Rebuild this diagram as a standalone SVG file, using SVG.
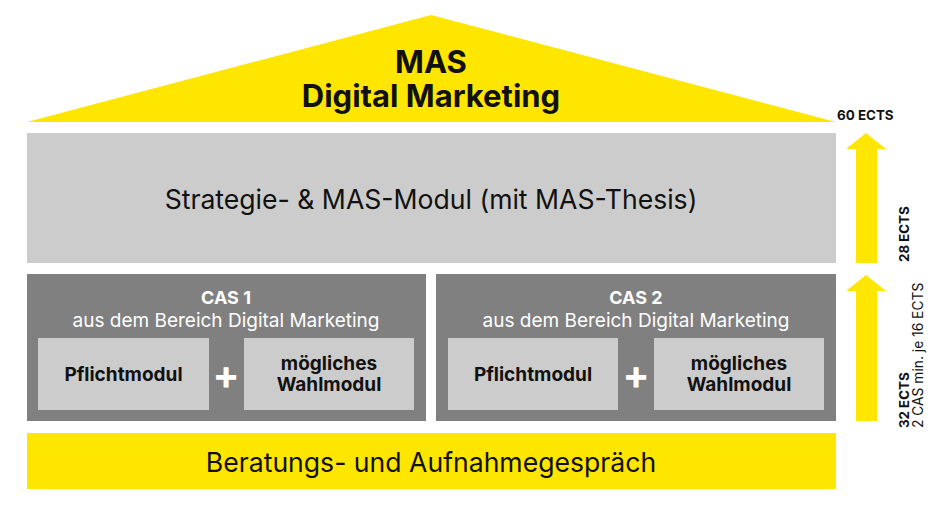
<svg xmlns="http://www.w3.org/2000/svg" width="950" height="515" viewBox="0 0 950 515">
<style>
text{font-family:Inter,"Liberation Sans",Arial,sans-serif;}
.y{fill:#FFE600;}
.lg{fill:#CCCCCC;}
.dg{fill:#808080;}
.b{font-weight:bold;fill:#111;}
.t{text-anchor:middle;}
.w{fill:#fff;}
.m{font-size:19px;}
.r{fill:#111;}
</style>
<rect width="950" height="515" fill="#fff"/>
<g id="roof">
<polygon class="y" points="27,122 431,15 836,122"/>
<text class="b t" font-size="31"><tspan x="431" y="73">MAS</tspan><tspan x="431" y="107">Digital Marketing</tspan></text>
</g>
<g id="strategie">
<rect class="lg" x="27" y="133" width="809" height="130"/>
<text class="t r" x="431" y="209" font-size="26.6">Strategie- &amp; MAS-Modul (mit MAS-Thesis)</text>
</g>
<g id="cas1">
<rect class="dg" x="27" y="274" width="399" height="147"/>
<text class="t w" x="226" y="304" font-size="18" font-weight="bold">CAS 1</text>
<text class="t w" x="226" y="327" font-size="19">aus dem Bereich Digital Marketing</text>
<rect class="lg" x="38" y="338" width="171" height="72"/>
<text class="b t m" x="123.5" y="381">Pflichtmodul</text>
<text class="t w" x="226" y="389" font-size="40" font-weight="bold">+</text>
<rect class="lg" x="244" y="338" width="170" height="72"/>
<text class="b t m"><tspan x="329" y="370">mögliches</tspan><tspan x="329" y="391">Wahlmodul</tspan></text>
</g>
<g id="cas2">
<rect class="dg" x="436" y="274" width="400" height="147"/>
<text class="t w" x="636" y="304" font-size="18" font-weight="bold">CAS 2</text>
<text class="t w" x="636" y="327" font-size="19">aus dem Bereich Digital Marketing</text>
<rect class="lg" x="448" y="338" width="170" height="72"/>
<text class="b t m" x="533" y="381">Pflichtmodul</text>
<text class="t w" x="636" y="389" font-size="40" font-weight="bold">+</text>
<rect class="lg" x="654" y="338" width="170" height="72"/>
<text class="b t m"><tspan x="739" y="370">mögliches</tspan><tspan x="739" y="391">Wahlmodul</tspan></text>
</g>
<g id="beratung">
<rect class="y" x="27" y="433" width="809" height="56"/>
<text class="t r" x="431" y="472" font-size="26.6">Beratungs- und Aufnahmegespräch</text>
</g>
<g id="connectors">
<polygon class="y" points="866,133 886,149 877,149 877,263 856,263 856,149 846,149"/>
<polygon class="y" points="866,275 886,291 877,291 877,421 856,421 856,291 846,291"/>
</g>
<g id="ects">
<text class="b" x="837" y="120" font-size="13.4">60 ECTS</text>
<text class="b" transform="translate(909,262) rotate(-90)" font-size="13.3">28 ECTS</text>
<text class="b" transform="translate(909,428) rotate(-90)" font-size="13.3">32 ECTS</text>
<text class="r" transform="translate(923,428) rotate(-90)" font-size="13.8">2 CAS min. je 16 ECTS</text>
</g>
</svg>
